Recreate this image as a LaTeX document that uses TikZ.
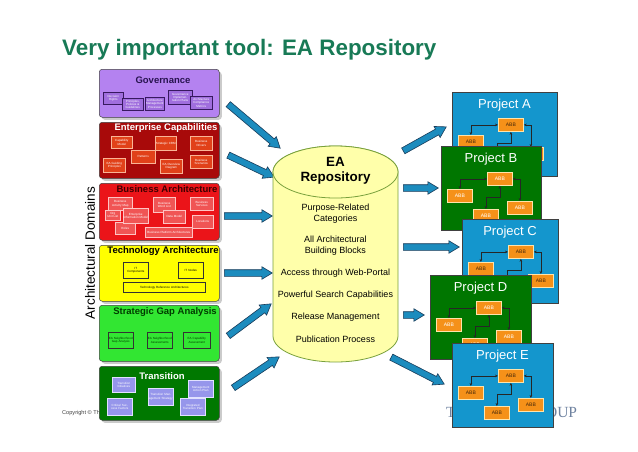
\documentclass[tikz,border=0pt]{standalone}
\usepackage{fontspec}
\setmainfont{Liberation Sans}
\newfontfamily\groupfont{Liberation Serif}
\usetikzlibrary{shapes.arrows,shadows,calc,arrows.meta}

% colours
\definecolor{headgreen}{RGB}{24,122,86}
\definecolor{arrowblue}{RGB}{28,140,190}
\definecolor{arrowline}{RGB}{25,60,90}
\definecolor{repofill}{RGB}{255,255,170}
\definecolor{repoline}{RGB}{120,160,60}
\definecolor{prjblue}{RGB}{20,150,205}
\definecolor{prjgreen}{RGB}{0,118,0}
\definecolor{abbfill}{RGB}{245,145,25}
\definecolor{abbline}{RGB}{255,228,170}
\definecolor{abbdark}{RGB}{70,40,10}
\definecolor{govfill}{RGB}{180,130,240}
\definecolor{govbox}{RGB}{160,110,222}
\definecolor{govline}{RGB}{55,25,95}
\definecolor{govtitle}{RGB}{40,20,80}
\definecolor{ecfill}{RGB}{168,10,10}
\definecolor{ecbox}{RGB}{225,65,25}
\definecolor{ecline}{RGB}{250,180,150}
\definecolor{bafill}{RGB}{235,20,25}
\definecolor{babox}{RGB}{240,85,85}
\definecolor{baline}{RGB}{255,195,195}
\definecolor{batitle}{RGB}{60,0,0}
\definecolor{tafill}{RGB}{255,255,0}
\definecolor{sgafill}{RGB}{50,230,50}
\definecolor{sgatitle}{RGB}{0,60,0}
\definecolor{trfill}{RGB}{0,120,0}
\definecolor{trbox}{RGB}{150,150,235}
\definecolor{trline}{RGB}{225,225,255}
\definecolor{groupgray}{RGB}{110,130,160}

\tikzset{
  panel/.style={draw=black!75, line width=0.5pt, rounded corners=3pt, minimum width=120pt,
    inner sep=0pt, anchor=north west,
    drop shadow={shadow xshift=2.5pt, shadow yshift=-2.5pt, fill=black!40}},
  ptitle/.style={font=\bfseries\fontsize{9.5}{10}\selectfont, inner sep=0pt},
  sbox/.style={draw, line width=0.6pt, anchor=north west, inner xsep=0pt, inner ysep=0.5pt,
    align=center, font=\fontsize{3}{3.3}\selectfont},
  bigarrow/.style={single arrow, draw=arrowline, fill=arrowblue, line width=0.6pt,
    inner xsep=0pt, inner ysep=3pt, single arrow head extend=3pt,
    single arrow tip angle=62, minimum width=0pt},
  repo/.style={fill=repofill, draw=repoline, line width=0.8pt},
  repotext/.style={font=\fontsize{9}{11}\selectfont, align=center, inner sep=0pt},
  prjbox/.style={draw=black!75, line width=0.6pt, anchor=north west, minimum height=84pt, inner sep=0pt},
  prjtitle/.style={text=white, font=\fontsize{13}{13}\selectfont, inner sep=0pt},
  abb/.style={draw=abbline, fill=abbfill, line width=0.8pt, anchor=north west,
    minimum width=25pt, minimum height=13pt, inner sep=0pt, font=\fontsize{5}{5}\selectfont},
  abblink/.style={black!85, line width=0.5pt,
    {Stealth[length=3pt,width=2.6pt]}-{Stealth[length=3pt,width=2.6pt]}}
}

\begin{document}
\begin{tikzpicture}[x=1pt,y=-1pt]
\useasboundingbox (0,0) rectangle (638,451);
\fill[white] (0,0) rectangle (638,451);

\def\sb#1#2#3#4#5#6{\node[sbox, minimum width=#4pt, minimum height=#5pt, text width=#4pt] (#1) at (#2,#3) {#6};}
\def\bigarrow#1#2#3{
\coordinate (#1s) at (#2);
\coordinate (#1e) at (#3);
\path let \p1=($(#1e)-(#1s)$), \n1={atan2(\y1,\x1)}, \n2={veclen(\x1,\y1)} in
  node[bigarrow, minimum height=\n2, rotate=\n1, anchor=tail] (#1) at (#1s) {};
}
\def\prj#1#2#3#4#5#6#7{
\node[prjbox, fill=#4, minimum width=#7pt] (#1) at (#2,#3) {};
\node[prjtitle] (#1-t) at (#2+#7/2,#3+13) {#5};
\node[abb, text=#6] (#1-top) at (#2+46,#3+26) {ABB};
\node[abb, text=#6] (#1-l) at (#2+6,#3+43) {ABB};
\node[abb, text=#6] (#1-r) at (#2+66,#3+55) {ABB};
\node[abb, text=#6] (#1-b) at (#2+32,#3+63) {ABB};
\draw[abblink] (#1-top.west) -| (#1-l.north);
\draw[abblink] (#1-top.east) -| (#1-r.north);
\draw[abblink] (#1-b.north) |- ($(#1-b.north)!0.5!(#1-top.south)$) -| (#1-top.south);
}

% heading and side label
\node[anchor=base west, inner sep=0pt, text=headgreen, font=\bfseries\fontsize{22.4}{26}\selectfont] (title) at (62,55) {Very important tool: EA Repository};
\node[rotate=90, inner sep=0pt, font=\fontsize{13.5}{14}\selectfont] (domains) at (90,253) {Architectural Domains};

% footer, partly hidden
\node[anchor=base west, inner sep=0pt, text=black!75, font=\fontsize{5.6}{6}\selectfont] (copy) at (62,414) {Copyright \textcopyright{} The Open Group};
\node[anchor=base west, inner sep=0pt, text=groupgray, font=\groupfont\fontsize{15.5}{16}\selectfont] (group) at (446,417) {THE OPEN GROUP};

% domains
\node[panel, fill=govfill, minimum height=48pt] (gov) at (99,69) {};
\node[ptitle, text=govtitle] (gov-t) at (163,80) {Governance};
\begin{scope}[sbox/.append style={fill=govbox, draw=govline, text=white}]
\sb{g1}{103}{92}{20}{12}{Decision Rights}
\sb{g2}{122}{98}{21}{12}{Principles, Policies \& Guidelines}
\sb{g3}{145}{97}{19}{13}{Architecture Management Processes}
\sb{g4}{168}{90}{24}{14}{Governance Implementation Plans}
\sb{g5}{190}{96}{22}{13}{Architecture Compliance Metrics}
\end{scope}

\node[panel, fill=ecfill, minimum height=56pt] (ec) at (99,122) {};
\node[ptitle, text=white] (ec-t) at (166,128) {Enterprise Capabilities};
\begin{scope}[sbox/.append style={fill=ecbox, draw=ecline, text=white}]
\sb{e1}{111}{136}{21}{12}{Capability Model}
\sb{e2}{155}{136}{21}{14}{Strategic CRM}
\sb{e3}{190}{136}{22}{14}{Business Drivers}
\sb{e4}{131}{150}{24}{13}{Patterns}
\sb{e5}{103}{158}{22}{14}{EA Guiding Principles}
\sb{e6}{160}{159}{22}{14}{EA Overview Diagram}
\sb{e7}{190}{155}{22}{13}{Business Scenarios}
\end{scope}

\node[panel, fill=bafill, minimum height=57pt] (ba) at (99,183) {};
\node[ptitle, text=batitle] (ba-t) at (167,189) {Business Architecture};
\begin{scope}[sbox/.append style={fill=babox, draw=baline, text=white}]
\sb{b1}{108}{197}{24}{13}{Business Activity Map}
\sb{b2}{153}{197}{22}{15}{Business Word List}
\sb{b3}{190}{197}{23}{13}{Business Services}
\sb{b4}{105}{210}{15}{10}{Org Unit List}
\sb{b6}{115}{222}{20}{12}{Roles}
\sb{b5}{123}{208}{25}{15}{Enterprise Information Model}
\sb{b7}{163}{210}{22}{13}{Data Model}
\sb{b8}{192}{215}{21}{13}{Locations}
\sb{b9}{145}{227}{47}{10}{Business Platform Architectures}
\end{scope}

\node[panel, fill=tafill, minimum height=56pt] (ta) at (99,245) {};
\node[ptitle, text=black] (ta-t) at (163,251) {Technology Architecture};
\begin{scope}[sbox/.append style={fill=tafill, draw=black!80, text=black}]
\sb{t1}{123}{262}{25}{16}{IT\\Components}
\sb{t2}{178}{262}{25}{16}{IT Nodes}
\sb{t3}{123}{282}{82}{10}{Technology Reference Architectures}
\end{scope}

\node[panel, fill=sgafill, minimum height=56pt] (sga) at (99,305) {};
\node[ptitle, text=sgatitle] (sga-t) at (165,312) {Strategic Gap Analysis};
\begin{scope}[sbox/.append style={fill=sgafill, draw=black!80, text=sgatitle}]
\sb{s1}{108}{332}{25}{16}{EA Neighborhood Gap Analysis}
\sb{s2}{147}{332}{25}{16}{EA Neighborhood Assessments}
\sb{s3}{183}{332}{27}{16}{EA Capability Assessment}
\end{scope}

\node[panel, fill=trfill, minimum height=54pt] (tr) at (99,366) {};
\node[ptitle, text=white] (tr-t) at (162,376) {Transition};
\begin{scope}[sbox/.append style={fill=trbox, draw=trline, text=white}]
\sb{r1}{112}{377}{23}{15}{Transition Initiatives}
\sb{r2}{148}{388}{25}{17}{Transition Management Strategy}
\sb{r3}{188}{380}{25}{17}{Management Action Plan}
\sb{r4}{107}{398}{25}{17}{Critical Success Factors}
\sb{r5}{180}{398}{25}{17}{Integrated Transition Plan}
\end{scope}

% arrows in and out
\bigarrow{la1}{228,104}{280,148}
\bigarrow{la2}{228,155}{274,177}
\bigarrow{la3}{224,216}{272,216}
\bigarrow{la4}{224,273}{272,273}
\bigarrow{la5}{228,336}{271,304}
\bigarrow{la6}{233,388}{279,357}
\bigarrow{ra1}{403,151}{446,127}
\bigarrow{ra2}{403,188}{438,188}
\bigarrow{ra3}{403,247}{459,247}
\bigarrow{ra4}{403,315}{424,315}
\bigarrow{ra5}{391,357}{444,384}

% repository
\draw[repo] (273,172) -- (273,336) arc[start angle=180, end angle=360, x radius=62.5pt, y radius=26pt]
  -- (398,172) arc[start angle=0, end angle=180, x radius=62.5pt, y radius=26pt] -- cycle;
\draw[repo] (335.5,172) ellipse [x radius=62.5pt, y radius=26pt];
\node[align=center, inner sep=0pt, font=\bfseries\fontsize{13.4}{15}\selectfont] (repo-t) at (335.5,171) {EA\\Repository};
\node[repotext] (c1) at (335.5,213.5) {Purpose-Related\\Categories};
\node[repotext] (c2) at (335.5,246) {All Architectural\\Building Blocks};
\node[repotext] (c3) at (335.5,273) {Access through Web-Portal};
\node[repotext] (c4) at (335.5,295) {Powerful Search Capabilities};
\node[repotext] (c5) at (335.5,317) {Release Management};
\node[repotext] (c6) at (335.5,339) {Publication Process};

% projects
\prj{pa}{452}{92}{prjblue}{Project A}{abbdark}{105}
\prj{pb}{441}{146}{prjgreen}{Project B}{white}{100}
\prj{pc}{462}{219}{prjblue}{Project C}{abbdark}{96}
\prj{pd}{430}{275}{prjgreen}{Project D}{white}{101}
\prj{pe}{452}{343}{prjblue}{Project E}{abbdark}{101}
\end{tikzpicture}
\end{document}
